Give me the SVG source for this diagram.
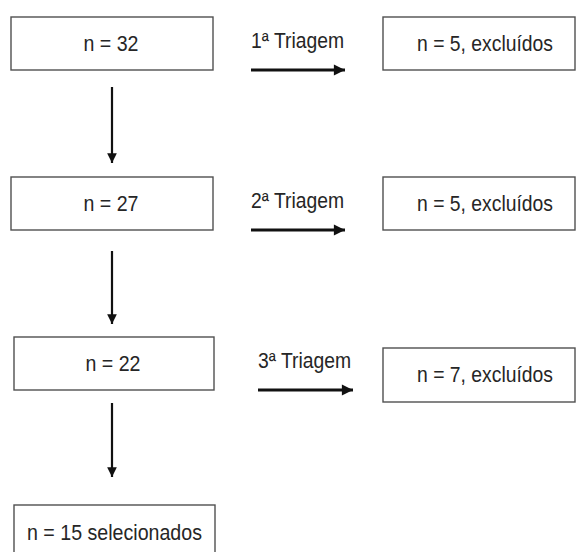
<svg xmlns="http://www.w3.org/2000/svg" width="576" height="552" viewBox="0 0 576 552">
  <style>
    .box { fill: #ffffff; stroke: #505050; stroke-width: 1.4; }
    .txt { font-family: "Liberation Sans", Arial, sans-serif; font-size: 21.5px; fill: #262626; }
    .mid { text-anchor: middle; }
    .flow { stroke: #111111; fill: none; }
    .v { stroke-width: 2.2; }
    .h { stroke-width: 3; }
  </style>
  <defs>
    <marker id="headV" viewBox="0 0 10 10" refX="10" refY="5" markerWidth="4.4" markerHeight="4.4" markerUnits="strokeWidth" orient="auto">
      <path d="M0,0 L10,5 L0,10 Z" fill="#111111"/>
    </marker>
    <marker id="headH" viewBox="0 0 10 10" refX="10" refY="5" markerWidth="4" markerHeight="3.7" markerUnits="strokeWidth" orient="auto">
      <path d="M0,0 L10,5 L0,10 Z" fill="#111111"/>
    </marker>
  </defs>
  <rect width="576" height="552" fill="#ffffff"/>

  <!-- main sequence -->
  <g id="n32">
    <rect class="box" x="11" y="17" width="202" height="53"/>
    <text class="txt mid" x="111" y="51" textLength="55" lengthAdjust="spacingAndGlyphs">n = 32</text>
  </g>
  <g id="n27">
    <rect class="box" x="11" y="177" width="202" height="53"/>
    <text class="txt mid" x="111" y="211" textLength="55" lengthAdjust="spacingAndGlyphs">n = 27</text>
  </g>
  <g id="n22">
    <rect class="box" x="14" y="337" width="200" height="53"/>
    <text class="txt mid" x="113" y="371" textLength="55" lengthAdjust="spacingAndGlyphs">n = 22</text>
  </g>
  <g id="n15">
    <rect class="box" x="14" y="505" width="201" height="55"/>
    <text class="txt mid" x="114.5" y="540" textLength="175" lengthAdjust="spacingAndGlyphs">n = 15 selecionados</text>
  </g>

  <!-- excluded at each screening -->
  <g id="excl1">
    <rect class="box" x="383" y="17" width="192" height="53"/>
    <text class="txt mid" x="485" y="51" textLength="136" lengthAdjust="spacingAndGlyphs">n = 5, excluídos</text>
  </g>
  <g id="excl2">
    <rect class="box" x="383" y="177" width="192" height="53"/>
    <text class="txt mid" x="485" y="211" textLength="136" lengthAdjust="spacingAndGlyphs">n = 5, excluídos</text>
  </g>
  <g id="excl3">
    <rect class="box" x="383" y="348" width="192" height="54"/>
    <text class="txt mid" x="485" y="382" textLength="136" lengthAdjust="spacingAndGlyphs">n = 7, excluídos</text>
  </g>

  <!-- connectors -->
  <g id="connectors">
    <line class="flow v" x1="112" y1="87" x2="112" y2="163" marker-end="url(#headV)"/>
    <line class="flow v" x1="112" y1="251" x2="112" y2="324" marker-end="url(#headV)"/>
    <line class="flow v" x1="112" y1="403" x2="112" y2="477" marker-end="url(#headV)"/>

    <line class="flow h" x1="251" y1="70" x2="345" y2="70" marker-end="url(#headH)"/>
    <line class="flow h" x1="251" y1="230" x2="345" y2="230" marker-end="url(#headH)"/>
    <line class="flow h" x1="258" y1="390" x2="353" y2="390" marker-end="url(#headH)"/>

    <text class="txt" x="251" y="48" textLength="93" lengthAdjust="spacingAndGlyphs">1ª Triagem</text>
    <text class="txt" x="251" y="208" textLength="93" lengthAdjust="spacingAndGlyphs">2ª Triagem</text>
    <text class="txt" x="258" y="368" textLength="93" lengthAdjust="spacingAndGlyphs">3ª Triagem</text>
  </g>
</svg>
